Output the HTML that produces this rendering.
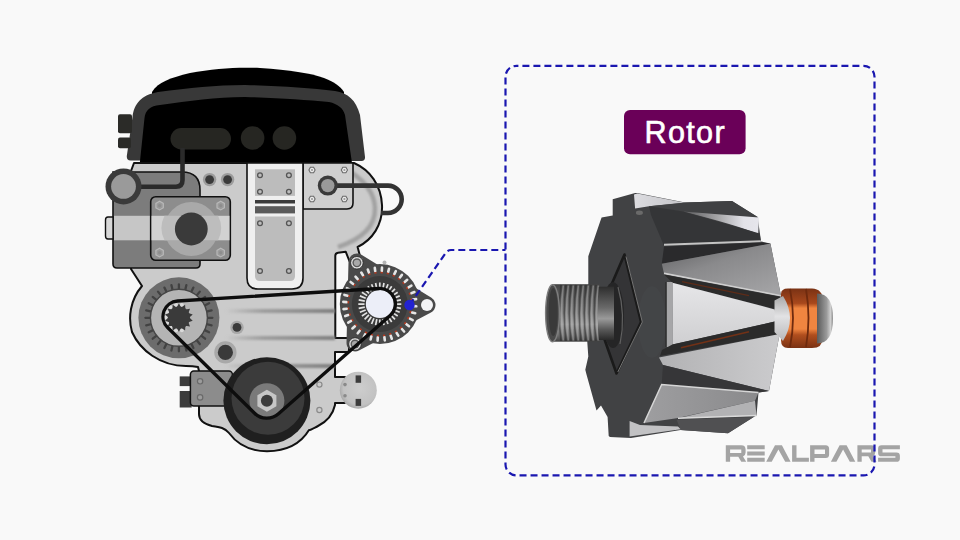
<!DOCTYPE html>
<html><head><meta charset="utf-8"><style>
html,body{margin:0;padding:0;background:#f9f9f9;}
body{width:960px;height:540px;overflow:hidden;font-family:"Liberation Sans",sans-serif;}
svg{display:block;}
</style></head><body>
<svg width="960" height="540" viewBox="0 0 960 540">
<defs>
<filter id="blur2" x="-5%" y="-100%" width="110%" height="300%"><feGaussianBlur stdDeviation="0.9"/></filter>
<filter id="blur1" x="-20%" y="-20%" width="140%" height="140%"><feGaussianBlur stdDeviation="1.3"/></filter>
<linearGradient id="streak" x1="0" x2="1" y1="0" y2="0">
 <stop offset="0" stop-color="#8e8e8e" stop-opacity="0"/>
 <stop offset="0.35" stop-color="#8e8e8e" stop-opacity="0.75"/>
 <stop offset="1" stop-color="#7e7e7e" stop-opacity="1"/>
</linearGradient>
<radialGradient id="sensorG" cx="0.55" cy="0.45" r="0.6">
 <stop offset="0" stop-color="#cdcdcd"/><stop offset="0.75" stop-color="#c2c2c2"/><stop offset="1" stop-color="#a2a2a2"/>
</radialGradient>
<linearGradient id="shaftG" x1="0" x2="0" y1="0" y2="1">
 <stop offset="0" stop-color="#444"/><stop offset="0.2" stop-color="#5e5e5e"/><stop offset="0.5" stop-color="#808080"/><stop offset="0.7" stop-color="#a0a0a0"/><stop offset="0.88" stop-color="#707070"/><stop offset="1" stop-color="#404040"/>
</linearGradient>
<linearGradient id="silverG" x1="0" x2="1" y1="0" y2="0">
 <stop offset="0" stop-color="#58585a"/><stop offset="0.45" stop-color="#a4a4a6"/><stop offset="0.8" stop-color="#e2e2e8"/><stop offset="1" stop-color="#e6e6ec"/>
</linearGradient>
<linearGradient id="clawE" x1="0" x2="0.8" y1="0" y2="1">
 <stop offset="0" stop-color="#5e5e60"/><stop offset="0.45" stop-color="#8a8a8c"/><stop offset="1" stop-color="#a2a2a4"/>
</linearGradient>
<linearGradient id="clawF" x1="0" x2="0" y1="0" y2="1">
 <stop offset="0" stop-color="#e6e6e8"/><stop offset="1" stop-color="#cfcfd1"/>
</linearGradient>
<linearGradient id="clawG" x1="0" x2="1" y1="0" y2="0">
 <stop offset="0" stop-color="#b2b2b4"/><stop offset="1" stop-color="#cbcbcd"/>
</linearGradient>
<linearGradient id="clawH" x1="0" x2="1" y1="0" y2="0">
 <stop offset="0" stop-color="#9e9ea0"/><stop offset="1" stop-color="#8a8a8c"/>
</linearGradient>
<linearGradient id="copperG" x1="0" x2="0" y1="0" y2="1">
 <stop offset="0" stop-color="#7a3214"/><stop offset="0.25" stop-color="#a8481c"/><stop offset="0.33" stop-color="#f08540"/><stop offset="0.68" stop-color="#f08540"/><stop offset="0.78" stop-color="#b04e1e"/><stop offset="1" stop-color="#7a3214"/>
</linearGradient>
<linearGradient id="topStrip" x1="0" x2="1" y1="0" y2="0">
 <stop offset="0" stop-color="#dcdce0"/><stop offset="1" stop-color="#c4c4c8"/>
</linearGradient>
<linearGradient id="shaftG2" x1="0" x2="0" y1="0" y2="1">
 <stop offset="0" stop-color="#2e2e2e"/><stop offset="0.4" stop-color="#6a6a6a"/><stop offset="0.6" stop-color="#9a9a9a"/><stop offset="0.8" stop-color="#5a5a5a"/><stop offset="1" stop-color="#2a2a2a"/>
</linearGradient>
<linearGradient id="capG2" x1="0" x2="0" y1="0" y2="1">
 <stop offset="0" stop-color="#a8a8a8"/><stop offset="0.45" stop-color="#e2e2e4"/><stop offset="1" stop-color="#b8b8ba"/>
</linearGradient>
<linearGradient id="capG" x1="0" x2="1" y1="0" y2="0">
 <stop offset="0" stop-color="#5a5a5a"/><stop offset="0.6" stop-color="#9a9a9a"/><stop offset="0.85" stop-color="#d0d0d0"/><stop offset="1" stop-color="#8a8a8a"/>
</linearGradient>
</defs>
<rect width="960" height="540" fill="#f9f9f9"/>
<path d="M152,92 C158,82 170,78 190,73 C215,68 240,67 260,68 C290,70 310,73 324,78 C334,82 340,86 344,92 L344,110 L152,110 Z" fill="#000"/>
<path d="M130.5,160.5 Q126.5,160.5 126.8,156 L132.5,117 C134,104 141,95 158,92 C190,88 215,85 245,85 C280,86 310,88 335,91 C348,93 356,100 360,115 L365,157 Q365.3,161 361.5,161 Z" fill="#383838"/>
<path d="M139.8,163 L144.5,118 C145.5,110 150,106 160,105 C190,101 215,97 245,97 C280,98 305,100 329,102 C338,104 343,108 345,115 L352,163 Z" fill="#000"/>
<rect x="118" y="114.2" width="14" height="19" rx="2" fill="#2b2b28"/>
<rect x="118" y="137.5" width="13" height="10.8" rx="2" fill="#2b2b28"/>
<rect x="170.5" y="128" width="60.5" height="21.5" rx="10.7" fill="#262622"/>
<circle cx="252.6" cy="138" r="11.8" fill="#262622"/>
<circle cx="284.4" cy="138" r="11.8" fill="#262622"/>
<path d="M134,163 L354,163 C370,170 381,185 382,205 C383,225 372,240 357.6,247 L360,256 L349.4,261 L345.7,251.7 L338,252.8 Q335.3,253.2 335.3,256 L335.3,338 L349,338 L349,352 L335,352 L335,377 L345,377 L345,403 L335,403 L335,405 C333,414 328,421 318,426 C314,428 311,430 309,430 C300,445 285,451 267,451.3 C250,451 237,444 229,433 C225,428 220,427 212,426 C204,424 199,420 199,414 L199,371 L198,367 C193,366 190,366 186,366 C160,366 140,350 132,332 C128,318 130,300 142,286 L131,269 L131,171 Z" fill="#cbcbcb" stroke="#111" stroke-width="2" stroke-linejoin="round"/>
<rect x="225" y="309" width="110" height="4" fill="url(#streak)" filter="url(#blur2)"/>
<rect x="225" y="336" width="110" height="4" fill="url(#streak)" filter="url(#blur2)"/>
<rect x="225" y="364" width="110" height="4" fill="url(#streak)" filter="url(#blur2)"/>
<path d="M349,171 C365,181 374.5,194 375,208 C375.5,224 365,238 338,247" fill="none" stroke="#a2a2a2" stroke-width="4.5" filter="url(#blur1)"/>
<path d="M303,163 L353,163 L353,203 Q353,209 347,209 L303,209 Z" fill="#cfcfcf" stroke="#111" stroke-width="1.6"/>
<polygon points="315.1,170 313.6,172.7 310.4,172.7 308.9,170 310.4,167.3 313.6,167.3" fill="#ececec" stroke="#6a6a6a" stroke-width="1.1"/>
<circle cx="312" cy="170" r="1.1" fill="#9a9a9a"/>
<polygon points="347.5,170 345.9,172.7 342.8,172.7 341.3,170 342.8,167.3 345.9,167.3" fill="#ececec" stroke="#6a6a6a" stroke-width="1.1"/>
<circle cx="344.4" cy="170" r="1.1" fill="#9a9a9a"/>
<polygon points="315.1,199 313.6,201.7 310.4,201.7 308.9,199 310.4,196.3 313.6,196.3" fill="#ececec" stroke="#6a6a6a" stroke-width="1.1"/>
<circle cx="312" cy="199" r="1.1" fill="#9a9a9a"/>
<polygon points="347.5,199 345.9,201.7 342.8,201.7 341.3,199 342.8,196.3 345.9,196.3" fill="#ececec" stroke="#6a6a6a" stroke-width="1.1"/>
<circle cx="344.4" cy="199" r="1.1" fill="#9a9a9a"/>
<path d="M328,185.6 L388,185.6 A13.7,13.7 0 0 1 388,213 L381,213" fill="none" stroke="#333" stroke-width="4.6"/>
<circle cx="327.8" cy="185.6" r="10" fill="#3a3a3a"/><circle cx="327.8" cy="185.6" r="6.7" fill="#9a9a9a"/>
<path d="M247,163 L303,163 L303,278 Q303,289 292,289 L258,289 Q247,289 247,278 Z" fill="#efefef" stroke="#111" stroke-width="1.6"/>
<rect x="255" y="169.3" width="40" height="26.6" fill="#bcbcbc"/>
<rect x="255" y="200" width="40" height="3.5" fill="#3a3a3a"/>
<rect x="255" y="206.2" width="40" height="7.2" fill="#5a5a5a"/>
<path d="M255,216.4 L295,216.4 L295,276 Q295,281 290,281 L260,281 Q255,281 255,276 Z" fill="#bcbcbc"/>
<circle cx="260" cy="175.2" r="2.4" fill="none" stroke="#555" stroke-width="1.3"/>
<circle cx="288.9" cy="175.2" r="2.4" fill="none" stroke="#555" stroke-width="1.3"/>
<circle cx="260" cy="191.8" r="2.4" fill="none" stroke="#555" stroke-width="1.3"/>
<circle cx="288.9" cy="191.8" r="2.4" fill="none" stroke="#555" stroke-width="1.3"/>
<circle cx="260" cy="223.3" r="2.4" fill="none" stroke="#555" stroke-width="1.3"/>
<circle cx="288.9" cy="223.3" r="2.4" fill="none" stroke="#555" stroke-width="1.3"/>
<circle cx="260" cy="271" r="2.4" fill="none" stroke="#555" stroke-width="1.3"/>
<circle cx="288.9" cy="271" r="2.4" fill="none" stroke="#555" stroke-width="1.3"/>
<circle cx="209.6" cy="179.6" r="6.7" fill="#9c9c9c"/><circle cx="209.6" cy="179.6" r="4.4" fill="#3a3a3a"/>
<circle cx="227.6" cy="179.6" r="6.7" fill="#9c9c9c"/><circle cx="227.6" cy="179.6" r="4.4" fill="#3a3a3a"/>
<path d="M113,172 L182,172 Q200,172 200,190 L200,264 Q200,268 196,268 L117,268 Q113,268 113,264 Z" fill="#7c7c7c" stroke="#111" stroke-width="1.6"/>
<path d="M113,217 L108,217 Q105.5,217 105.5,220 L105.5,236 Q105.5,239 108,239 L113,239 Z" fill="#d8d8d8" stroke="#111" stroke-width="1.4"/>
<rect x="114" y="215.8" width="86" height="24.5" fill="#c6c6c6"/>
<rect x="150.7" y="196.7" width="79.6" height="63.6" rx="5" fill="#8d8d8d" stroke="#111" stroke-width="1.6"/>
<rect x="151.5" y="215.8" width="78" height="24.5" fill="#d2d2d2"/>
<circle cx="191.3" cy="229" r="27" fill="#a9a9a9"/>
<path d="M164.5,215.8 L218.1,215.8 A27,27 0 0 1 218.1,240.3 L164.5,240.3 A27,27 0 0 1 164.5,215.8 Z" fill="#bdbdbd"/>
<circle cx="191.3" cy="229" r="16.4" fill="#3a3a3a"/>
<polygon points="163.3,207.8 159.6,209.9 155.9,207.8 155.9,203.4 159.6,201.3 163.3,203.4" fill="#9a9a9a" stroke="#b8b8b8" stroke-width="1.2"/>
<circle cx="159.6" cy="205.6" r="1.6" fill="#8d8d8d"/>
<polygon points="224.4,207.8 220.7,209.9 217,207.8 217,203.4 220.7,201.3 224.4,203.4" fill="#9a9a9a" stroke="#b8b8b8" stroke-width="1.2"/>
<circle cx="220.7" cy="205.6" r="1.6" fill="#8d8d8d"/>
<polygon points="163.3,254.8 159.6,256.9 155.9,254.8 155.9,250.4 159.6,248.3 163.3,250.4" fill="#9a9a9a" stroke="#b8b8b8" stroke-width="1.2"/>
<circle cx="159.6" cy="252.6" r="1.6" fill="#8d8d8d"/>
<polygon points="224.4,254.8 220.7,256.9 217,254.8 217,250.4 220.7,248.3 224.4,250.4" fill="#9a9a9a" stroke="#b8b8b8" stroke-width="1.2"/>
<circle cx="220.7" cy="252.6" r="1.6" fill="#8d8d8d"/>
<path d="M123.5,186.7 L176,186.7 Q182.5,186.7 182.5,180 L182.5,148" fill="none" stroke="#2a2a2a" stroke-width="4.6"/>
<circle cx="123.5" cy="186.4" r="18" fill="#3a3a3a"/><circle cx="123.5" cy="186.4" r="12.4" fill="#9a9a9a"/>
<circle cx="178.9" cy="317.8" r="40.5" fill="#6c6c6c"/>
<path d="M206.9,317.8L212.4,317.8M206.2,324L211.6,325.3M204.1,329.9L209.1,332.3M200.8,335.3L205.1,338.7M196.4,339.7L199.8,344M191,343L193.4,348M185.1,345.1L186.4,350.5M178.9,345.8L178.9,351.3M172.7,345.1L171.4,350.5M166.8,343L164.4,348M161.4,339.7L158,344M157,335.3L152.7,338.7M153.7,329.9L148.7,332.3M151.6,324L146.2,325.3M150.9,317.8L145.4,317.8M151.6,311.6L146.2,310.3M153.7,305.7L148.7,303.3M157,300.3L152.7,296.9M161.4,295.9L158,291.6M166.8,292.6L164.4,287.6M172.7,290.5L171.4,285.1M178.9,289.8L178.9,284.3M185.1,290.5L186.4,285.1M191,292.6L193.4,287.6M196.4,295.9L199.8,291.6M200.8,300.3L205.1,296.9M204.1,305.7L209.1,303.3M206.2,311.6L211.6,310.3" stroke="#424242" stroke-width="2.3" stroke-linecap="round"/>
<circle cx="178.9" cy="317.8" r="28.5" fill="#b4b4b4" stroke="#454545" stroke-width="1.4"/>
<circle cx="181.8" cy="304.9" r="2" fill="#dadada"/>
<circle cx="181.8" cy="330.3" r="2" fill="#dadada"/>
<circle cx="176" cy="330.3" r="2" fill="#dadada"/>
<circle cx="170.8" cy="327.8" r="2" fill="#dadada"/>
<circle cx="167.2" cy="323.2" r="2" fill="#dadada"/>
<circle cx="165.9" cy="317.6" r="2" fill="#dadada"/>
<circle cx="167.2" cy="312" r="2" fill="#dadada"/>
<circle cx="170.8" cy="307.4" r="2" fill="#dadada"/>
<circle cx="176" cy="304.9" r="2" fill="#dadada"/>
<circle cx="178.9" cy="317.6" r="11" fill="#3a3a3a"/>
<polygon points="178.9,303.4 181.2,307.4 185.1,304.8 185.4,309.4 190,308.7 188.4,313 192.7,314.4 189.4,317.6 192.7,320.8 188.4,322.2 190,326.5 185.4,325.8 185.1,330.4 181.2,327.8 178.9,331.8 176.6,327.8 172.7,330.4 172.4,325.8 167.8,326.5 169.4,322.2 165.1,320.8 168.4,317.6 165.1,314.4 169.4,313 167.8,308.7 172.4,309.4 172.7,304.8 176.6,307.4" fill="#3a3a3a"/>
<circle cx="237" cy="327.4" r="6.7" fill="#a8a8a8"/><circle cx="237" cy="327.4" r="4.4" fill="#3a3a3a"/>
<circle cx="225.4" cy="352.4" r="11.1" fill="#a8a8a8"/><circle cx="225.4" cy="352.4" r="7.6" fill="#3a3a3a"/>
<rect x="179.7" y="376.4" width="12" height="9.7" fill="#3c3c3c"/>
<rect x="179.7" y="391" width="12" height="16.5" fill="#3c3c3c"/>
<rect x="190.4" y="371" width="42" height="35" rx="3.5" fill="#8c8c8c" stroke="#111" stroke-width="1.5"/>
<circle cx="200.1" cy="381.3" r="2.7" fill="#9c9c9c" stroke="#6a6a6a" stroke-width="1.2"/>
<circle cx="200.1" cy="397.4" r="2.7" fill="#9c9c9c" stroke="#6a6a6a" stroke-width="1.2"/>
<circle cx="319.4" cy="384.6" r="2.6" fill="none" stroke="#8a8a8a" stroke-width="1.2"/>
<circle cx="319.4" cy="410" r="2.6" fill="none" stroke="#8a8a8a" stroke-width="1.2"/>
<circle cx="266.9" cy="400.7" r="43.5" fill="#1f1f1f"/>
<circle cx="268" cy="398.2" r="36.5" fill="#3b3b3b"/>
<circle cx="266.9" cy="400.7" r="17.5" fill="#7a7a7a"/>
<polygon points="276.4,406.2 266.9,411.7 257.4,406.2 257.4,395.2 266.9,389.7 276.4,395.2" fill="#c6c6c6"/>
<circle cx="266.9" cy="400.7" r="6" fill="#3c3c3c"/>
<circle cx="358.3" cy="390.2" r="18.5" fill="url(#sensorG)"/>
<rect x="355.6" y="375.4" width="5.5" height="7.4" fill="#3c3c3c"/><rect x="355.6" y="398.9" width="5.5" height="7" fill="#3c3c3c"/>
<circle cx="345" cy="384.6" r="1.8" fill="#8a8a8a"/><circle cx="345" cy="395.7" r="1.8" fill="#8a8a8a"/>
<path d="M357,262 L427,305 L355,343 Z" fill="#4a4a4a" stroke="#4a4a4a" stroke-width="17" stroke-linejoin="round"/>
<circle cx="384.5" cy="262.6" r="2" fill="#b5b5b5"/>
<circle cx="379.8" cy="304.1" r="40" fill="#4a4a4a"/>
<circle cx="379.8" cy="304.1" r="28" fill="#3b3b3b"/>
<path d="M413,306.1L416.3,306.3" stroke="#e6e6e6" stroke-width="2.6" stroke-linecap="round"/>
<path d="M410.5,305.9L412,306" stroke="#b5391f" stroke-width="2.2"/>
<path d="M412,312.5L415.2,313.3" stroke="#e6e6e6" stroke-width="2.6" stroke-linecap="round"/>
<path d="M409.6,311.9L411.1,312.3" stroke="#b5391f" stroke-width="2.2"/>
<path d="M409.8,318.6L412.7,320.1" stroke="#e6e6e6" stroke-width="2.6" stroke-linecap="round"/>
<path d="M407.5,317.5L408.9,318.2" stroke="#b5391f" stroke-width="2.2"/>
<path d="M406.4,324.2L409,326.2" stroke="#e6e6e6" stroke-width="2.6" stroke-linecap="round"/>
<path d="M404.4,322.7L405.6,323.6" stroke="#b5391f" stroke-width="2.2"/>
<path d="M401.9,329L404.1,331.5" stroke="#e6e6e6" stroke-width="2.6" stroke-linecap="round"/>
<path d="M400.3,327.1L401.3,328.2" stroke="#b5391f" stroke-width="2.2"/>
<path d="M396.6,332.8L398.3,335.7" stroke="#e6e6e6" stroke-width="2.6" stroke-linecap="round"/>
<path d="M395.4,330.7L396.1,332" stroke="#b5391f" stroke-width="2.2"/>
<path d="M390.7,335.6L391.8,338.7" stroke="#e6e6e6" stroke-width="2.6" stroke-linecap="round"/>
<path d="M389.9,333.2L390.4,334.6" stroke="#b5391f" stroke-width="2.2"/>
<path d="M384.4,337.1L384.8,340.4" stroke="#e6e6e6" stroke-width="2.6" stroke-linecap="round"/>
<path d="M384,334.6L384.2,336.1" stroke="#b5391f" stroke-width="2.2"/>
<path d="M377.8,337.3L377.6,340.6" stroke="#e6e6e6" stroke-width="2.6" stroke-linecap="round"/>
<path d="M378,334.8L377.9,336.3" stroke="#b5391f" stroke-width="2.2"/>
<path d="M371.4,336.3L370.6,339.5" stroke="#e6e6e6" stroke-width="2.6" stroke-linecap="round"/>
<path d="M372,333.9L371.6,335.4" stroke="#b5391f" stroke-width="2.2"/>
<path d="M365.3,334.1L363.8,337" stroke="#e6e6e6" stroke-width="2.6" stroke-linecap="round"/>
<path d="M366.4,331.8L365.7,333.2" stroke="#b5391f" stroke-width="2.2"/>
<path d="M359.7,330.7L357.7,333.3" stroke="#e6e6e6" stroke-width="2.6" stroke-linecap="round"/>
<path d="M361.2,328.7L360.3,329.9" stroke="#b5391f" stroke-width="2.2"/>
<path d="M354.9,326.2L352.4,328.4" stroke="#e6e6e6" stroke-width="2.6" stroke-linecap="round"/>
<path d="M356.8,324.6L355.7,325.6" stroke="#b5391f" stroke-width="2.2"/>
<path d="M351.1,320.9L348.2,322.6" stroke="#e6e6e6" stroke-width="2.6" stroke-linecap="round"/>
<path d="M353.2,319.7L351.9,320.4" stroke="#b5391f" stroke-width="2.2"/>
<path d="M348.3,315L345.2,316.1" stroke="#e6e6e6" stroke-width="2.6" stroke-linecap="round"/>
<path d="M350.7,314.2L349.3,314.7" stroke="#b5391f" stroke-width="2.2"/>
<path d="M346.8,308.7L343.5,309.1" stroke="#e6e6e6" stroke-width="2.6" stroke-linecap="round"/>
<path d="M349.3,308.3L347.8,308.5" stroke="#b5391f" stroke-width="2.2"/>
<path d="M346.6,302.1L343.3,301.9" stroke="#e6e6e6" stroke-width="2.6" stroke-linecap="round"/>
<path d="M349.1,302.3L347.6,302.2" stroke="#b5391f" stroke-width="2.2"/>
<path d="M347.6,295.7L344.4,294.9" stroke="#e6e6e6" stroke-width="2.6" stroke-linecap="round"/>
<path d="M350,296.3L348.5,295.9" stroke="#b5391f" stroke-width="2.2"/>
<path d="M349.8,289.6L346.9,288.1" stroke="#e6e6e6" stroke-width="2.6" stroke-linecap="round"/>
<path d="M352.1,290.7L350.7,290" stroke="#b5391f" stroke-width="2.2"/>
<path d="M353.2,284L350.6,282" stroke="#e6e6e6" stroke-width="2.6" stroke-linecap="round"/>
<path d="M355.2,285.5L354,284.6" stroke="#b5391f" stroke-width="2.2"/>
<path d="M357.7,279.2L355.5,276.7" stroke="#e6e6e6" stroke-width="2.6" stroke-linecap="round"/>
<path d="M359.3,281.1L358.3,280" stroke="#b5391f" stroke-width="2.2"/>
<path d="M363,275.4L361.3,272.5" stroke="#e6e6e6" stroke-width="2.6" stroke-linecap="round"/>
<path d="M364.2,277.5L363.5,276.2" stroke="#b5391f" stroke-width="2.2"/>
<path d="M368.9,272.6L367.8,269.5" stroke="#e6e6e6" stroke-width="2.6" stroke-linecap="round"/>
<path d="M369.7,275L369.2,273.6" stroke="#b5391f" stroke-width="2.2"/>
<path d="M375.2,271.1L374.8,267.8" stroke="#e6e6e6" stroke-width="2.6" stroke-linecap="round"/>
<path d="M375.6,273.6L375.4,272.1" stroke="#b5391f" stroke-width="2.2"/>
<path d="M381.8,270.9L382,267.6" stroke="#e6e6e6" stroke-width="2.6" stroke-linecap="round"/>
<path d="M381.6,273.4L381.7,271.9" stroke="#b5391f" stroke-width="2.2"/>
<path d="M388.2,271.9L389,268.7" stroke="#e6e6e6" stroke-width="2.6" stroke-linecap="round"/>
<path d="M387.6,274.3L388,272.8" stroke="#b5391f" stroke-width="2.2"/>
<path d="M394.3,274.1L395.8,271.2" stroke="#e6e6e6" stroke-width="2.6" stroke-linecap="round"/>
<path d="M393.2,276.4L393.9,275" stroke="#b5391f" stroke-width="2.2"/>
<path d="M399.9,277.5L401.9,274.9" stroke="#e6e6e6" stroke-width="2.6" stroke-linecap="round"/>
<path d="M398.4,279.5L399.3,278.3" stroke="#b5391f" stroke-width="2.2"/>
<path d="M404.7,282L407.2,279.8" stroke="#e6e6e6" stroke-width="2.6" stroke-linecap="round"/>
<path d="M402.8,283.6L403.9,282.6" stroke="#b5391f" stroke-width="2.2"/>
<path d="M408.5,287.3L411.4,285.6" stroke="#e6e6e6" stroke-width="2.6" stroke-linecap="round"/>
<path d="M406.4,288.5L407.7,287.8" stroke="#b5391f" stroke-width="2.2"/>
<path d="M411.3,293.2L414.4,292.1" stroke="#e6e6e6" stroke-width="2.6" stroke-linecap="round"/>
<path d="M408.9,294L410.3,293.5" stroke="#b5391f" stroke-width="2.2"/>
<path d="M412.8,299.5L416.1,299.1" stroke="#e6e6e6" stroke-width="2.6" stroke-linecap="round"/>
<path d="M410.3,299.9L411.8,299.7" stroke="#b5391f" stroke-width="2.2"/>
<path d="M395.1,304.1L401.3,304.1M394.8,307.1L400.9,308.3M393.9,310L399.7,312.3M392.5,312.6L397.7,316M390.6,314.9L395,319.3M388.3,316.8L391.7,322M385.7,318.2L388,324M382.8,319.1L384,325.2M379.8,319.4L379.8,325.6M376.8,319.1L375.6,325.2M373.9,318.2L371.6,324M371.3,316.8L367.9,322M369,314.9L364.6,319.3M367.1,312.6L361.9,316M365.7,310L359.9,312.3M364.8,307.1L358.7,308.3M364.5,304.1L358.3,304.1M364.8,301.1L358.7,299.9M365.7,298.2L359.9,295.9M367.1,295.6L361.9,292.2M369,293.3L364.6,288.9M371.3,291.4L367.9,286.2M373.9,290L371.6,284.2M376.8,289.1L375.6,283M379.8,288.8L379.8,282.6M382.8,289.1L384,283M385.7,290L388,284.2M388.3,291.4L391.7,286.2M390.6,293.3L395,288.9M392.5,295.6L397.7,292.2M393.9,298.2L399.7,295.9M394.8,301.1L400.9,299.9" stroke="#e2e2e2" stroke-width="1.7"/>
<circle cx="379.8" cy="304.1" r="14" fill="#eceef8"/>
<circle cx="356.9" cy="262.8" r="6.3" fill="#e2e2e2" stroke="#2a2a2a" stroke-width="0.9"/><circle cx="356.9" cy="262.8" r="4.5" fill="#5a5a5a"/><circle cx="356.9" cy="262.8" r="3.1" fill="#a9a9a9"/>
<circle cx="355" cy="344" r="6.3" fill="#e2e2e2" stroke="#2a2a2a" stroke-width="0.9"/><circle cx="355" cy="344" r="4.5" fill="#5a5a5a"/><circle cx="355" cy="344" r="3.1" fill="#a9a9a9"/>
<circle cx="427" cy="305" r="6" fill="#f4f4f6"/>
<path d="M177.5,301 L379,288.5 A15.5,15.5 0 0 1 390.2,315.6 L278.5,413.8 A17.5,17.5 0 0 1 254.6,413.2 L167.6,327.5 A15.5,15.5 0 0 1 177.5,301 Z" fill="none" stroke="#0d0d0d" stroke-width="3.3" stroke-linejoin="round"/>
<g fill="#a4a4a4" fill-rule="evenodd"><path d="M725.8,445.3 H741.3 Q745.6,445.3 745.6,449.6 V452.6 Q745.6,455.6 743,456.4 L746.2,461.8 H741.3 L738.3,456.7 H730.1 V461.8 H725.8 Z M730.1,449.4 V453.1 H741.3 V449.4 Z"/><path d="M747.2,445.3 H764.7 V449.3 H747.2 Z M747.2,451.4 H764.7 V455.4 H747.2 Z M747.2,457.8 H764.7 V461.8 H747.2 Z"/><path d="M766.2,461.8 L775,445.3 H781.9 L790.6,461.8 H785.2 L778.4,449.6 L771.7,461.8 Z"/><path d="M792.1,445.3 H796.5 V457.8 H808.9 V461.8 H792.1 Z"/><path d="M810.1,445.3 H825.6 Q829.1,445.3 829.1,448.8 V454.4 Q829.1,457.9 825.6,457.9 H814.5 V461.8 H810.1 Z M814.5,449.5 V453.9 H825 V449.5 Z"/><path d="M830.9,461.8 L839.6,445.3 H846.6 L855.3,461.8 H849.8 L843.1,449.6 L836.4,461.8 Z"/><path d="M857.4,445.3 H871.5 Q875.2,445.3 875.2,449 V452.4 Q875.2,455 872.8,455.9 L876.5,461.8 H871.5 L868.3,456.2 H861.7 V461.8 H857.4 Z M861.7,449.5 V452.6 H871 V449.5 Z"/><path d="M881.5,445.3 H899.9 V449.3 H882.5 V452.4 H896.5 Q899.9,452.4 899.9,455.8 V458.4 Q899.9,461.8 896.5,461.8 H878.1 V457.8 H895.4 V456.3 H881.5 Q878.1,456.3 878.1,452.9 V448.7 Q878.1,445.3 881.5,445.3 Z"/></g>
<path d="M409.5,305 L446,252.5 Q448,250 451,250 L505.5,250" fill="none" stroke="#1a17b0" stroke-width="2.2" stroke-dasharray="7,4"/>
<circle cx="409.5" cy="305" r="5.2" fill="#2323d0"/>
<rect x="505.5" y="65.8" width="369" height="409.6" rx="11" fill="none" stroke="#1a17b0" stroke-width="2.2" stroke-dasharray="7,4" stroke-dashoffset="5.1"/>
<rect x="624" y="110" width="121.6" height="44.3" rx="6" fill="#6a0058"/>
<text x="644.6" y="142.8" font-family="Liberation Sans" font-size="30.6" letter-spacing="1.3" fill="#fff" stroke="#fff" stroke-width="0.6">Rotor</text>
<path d="M612.7,199.2 L635.1,193.1 L637,193 L685,202.5 L732,201 L757.6,217 L760,234 L761,241.4 L770.4,243.6 L781,295.8 L775,309 L777,321 L779.6,334 L769,391 L758.5,392.6 L756.5,415.6 L753.7,417 L728,433.2 L680.6,430 L631,438 L610,437 L608.7,436 L607.6,417 L601,405.5 L596.5,410.4 L586.3,373.8 L585.3,369.7 L588.3,356.5 L587.3,342.2 L588.3,284.7 L588.3,256.2 L600.5,220.6 L601.6,217.6 L612.7,215.5 Z" fill="#414244"/>
<ellipse cx="652" cy="322" rx="14" ry="36" fill="#48494b" opacity="0.45"/>
<path d="M634,194.6 L637.3,193.5 L685.2,202.8 L649,206.3 L635.1,208.4 Z" fill="url(#topStrip)"/>
<path d="M649,206.3 L685.2,202.5 L732,201 L757.6,217 L683,211.6 Z" fill="#404143"/>
<path d="M683,211.6 L758.9,217.6 L758.2,234 Q736,225 683,211.6 Z" fill="url(#silverG)"/>
<path d="M649,206.3 L683,211.6 L759.7,233.5 L760.8,241.4 L664,245.7 L651,215 Z" fill="#343537"/>
<path d="M664,244.8 L760.8,241.2" stroke="#c4c4c4" stroke-width="2"/>
<path d="M664,246.5 L761,242.4 L770.4,243.6 L661.8,263.8 Z" fill="#2a2a2c"/>
<path d="M661.8,263.8 L770.4,243.6 L781,295.8 L664,273.4 Z" fill="url(#clawE)"/>
<path d="M664,273.4 L781,295.8" stroke="#cfcfcf" stroke-width="1.6"/>
<path d="M664,274.5 L781,297 L775,309 L672.4,282.8 Z" fill="#2b2b2b"/>
<path d="M682,281.7 L749,295.6" stroke="#6a2c14" stroke-width="1.2" opacity="0.8"/>
<path d="M672.4,282.8 L774.7,309.4 L776.8,321.1 L672.4,344.5 Z" fill="url(#clawF)"/>
<rect x="666.5" y="282" width="6" height="65" fill="#a6a6a8"/>
<path d="M666,282 L666,347" stroke="#2a2a2a" stroke-width="1.2"/>
<path d="M672.4,344.5 L776.8,321.1 L779.6,334 L660,356 L662,350 Z" fill="#2b2b2b"/>
<path d="M681,347.7 L749,331.8" stroke="#7a3214" stroke-width="1.4" opacity="0.9"/>
<path d="M659,357.5 L779.6,334 L769,391 L663,365 Z" fill="url(#clawG)"/>
<path d="M663,365 L769,391 L758.5,392.6 L661.7,384.5 Z" fill="#363638"/>
<path d="M661.7,384.5 L758.5,392.6 L755,400.7 L676.6,418.3 L644,423 Z" fill="url(#clawH)"/>
<path d="M644,423 L661.7,384.5 L758.5,392.6" fill="none" stroke="#d6d6d6" stroke-width="1.5"/>
<path d="M755,400.7 L756.5,415.6 L678,418.3 Z" fill="#b2b2b4"/>
<path d="M678,418.3 L756.5,415.6" stroke="#dadada" stroke-width="1.5"/>
<path d="M676.6,419.7 L753.7,417 L728,433.2 L680.6,430 Z" fill="#505052"/>
<path d="M629.6,421 L640,425.1 L678,426.5 L680.6,429.2 L629.6,436.5 Z" fill="#c2c2c4"/>
<polygon points="624.5,254.5 641,322 616.5,373.5 597,318" fill="#343436" stroke="#1a1a1a" stroke-width="2.6" stroke-linejoin="round"/>
<path d="M626,256.5 L642.3,322 L617.8,372" fill="none" stroke="#747474" stroke-width="1" stroke-linejoin="round"/>
<ellipse cx="613" cy="315" rx="11" ry="33" fill="#252526"/>
<path d="M618,287 Q626,315 620,344" fill="none" stroke="#606060" stroke-width="1.2"/>
<rect x="552" y="284.2" width="48" height="57.5" fill="url(#shaftG)"/>
<path d="M598,286.7 L614,286.7 L614,340 L598,340 Z" fill="url(#shaftG2)"/>
<path d="M561,284.8 Q557.5,313 561,341" fill="none" stroke="#2a2a2a" stroke-width="1.6" opacity="0.55"/>
<path d="M563.3,285.5 Q559.8,313 563.3,340.5" fill="none" stroke="#b8b8b8" stroke-width="1.6" opacity="0.45"/>
<path d="M566,284.8 Q562.5,313 566,341" fill="none" stroke="#2a2a2a" stroke-width="1.6" opacity="0.55"/>
<path d="M568.3,285.5 Q564.8,313 568.3,340.5" fill="none" stroke="#b8b8b8" stroke-width="1.6" opacity="0.45"/>
<path d="M571,284.8 Q567.5,313 571,341" fill="none" stroke="#2a2a2a" stroke-width="1.6" opacity="0.55"/>
<path d="M573.3,285.5 Q569.8,313 573.3,340.5" fill="none" stroke="#b8b8b8" stroke-width="1.6" opacity="0.45"/>
<path d="M576,284.8 Q572.5,313 576,341" fill="none" stroke="#2a2a2a" stroke-width="1.6" opacity="0.55"/>
<path d="M578.3,285.5 Q574.8,313 578.3,340.5" fill="none" stroke="#b8b8b8" stroke-width="1.6" opacity="0.45"/>
<path d="M581,284.8 Q577.5,313 581,341" fill="none" stroke="#2a2a2a" stroke-width="1.6" opacity="0.55"/>
<path d="M583.3,285.5 Q579.8,313 583.3,340.5" fill="none" stroke="#b8b8b8" stroke-width="1.6" opacity="0.45"/>
<path d="M586,284.8 Q582.5,313 586,341" fill="none" stroke="#2a2a2a" stroke-width="1.6" opacity="0.55"/>
<path d="M588.3,285.5 Q584.8,313 588.3,340.5" fill="none" stroke="#b8b8b8" stroke-width="1.6" opacity="0.45"/>
<path d="M591,284.8 Q587.5,313 591,341" fill="none" stroke="#2a2a2a" stroke-width="1.6" opacity="0.55"/>
<path d="M593.3,285.5 Q589.8,313 593.3,340.5" fill="none" stroke="#b8b8b8" stroke-width="1.6" opacity="0.45"/>
<path d="M596,284.8 Q592.5,313 596,341" fill="none" stroke="#2a2a2a" stroke-width="1.6" opacity="0.55"/>
<path d="M598.3,285.5 Q594.8,313 598.3,340.5" fill="none" stroke="#b8b8b8" stroke-width="1.6" opacity="0.45"/>
<ellipse cx="552.5" cy="313.3" rx="6.9" ry="28.6" fill="#4a4a4a" stroke="#7e7e7e" stroke-width="1.4"/>
<ellipse cx="553.2" cy="312" rx="4.5" ry="24" fill="#3a3a3a"/>
<ellipse cx="639.4" cy="212.7" rx="3.5" ry="2.2" fill="#6a6a6a"/>
<path d="M781,294 Q781,288.5 788,288.5 L812,288.5 Q822.7,289 822.7,300 L822.7,338 Q822.7,348 812,348 L788,348 Q781,348 781,340 Z" fill="url(#copperG)"/>
<path d="M790,289 Q796,318 790,347 M806,289 Q811,318 806,347" fill="none" stroke="#6e2a0e" stroke-width="1.8"/>
<path d="M774.5,300.5 L783,296 Q797,318 783,341 L774.5,332 Z" fill="url(#capG2)"/>
<path d="M817,293.6 Q833,293.6 833,318.5 Q833,343.5 817,343.5 Z" fill="url(#capG)"/>
</svg>
</body></html>
